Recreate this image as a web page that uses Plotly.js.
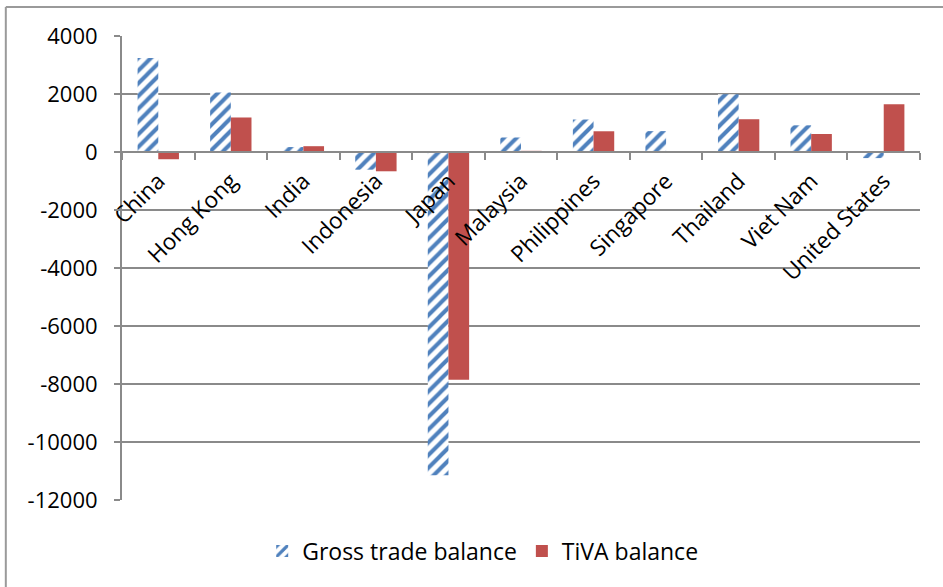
<!DOCTYPE html>
<html>
<head>
<meta charset="utf-8">
<script src="https://cdn.plot.ly/plotly-3.0.1.min.js"></script>
<style>
html,body{margin:0;padding:0;background:#fff;}
#chart{width:943px;height:587px;}
</style>
</head>
<body>
<div id="chart"></div>
<script>
const categories = ["China","Hong Kong","India","Indonesia","Japan","Malaysia","Philippines","Singapore","Thailand","Viet Nam","United States"];
const grossTrade = [3240, 2050, 170, -610, -11150, 500, 1120, 720, 1990, 920, -210];
const tivaBalance = [-250, 1190, 200, -665, -7850, 40, 715, 0, 1130, 620, 1645];
const yTicks = [4000, 2000, 0, -2000, -4000, -6000, -8000, -10000, -12000];

const FONT = "Open Sans, sans-serif";
const GRID = "#8a8a8a";

const traces = [
  {
    type: "bar", name: "Gross trade balance", x: categories, y: grossTrade,
    marker: {color: "#ffffff", line: {width: 0},
      pattern: {shape: "/", fgcolor: "#4F81BD", bgcolor: "#ffffff", size: 9, solidity: 0.45}},
    hoverinfo: "x+y"
  },
  {
    type: "bar", name: "TiVA balance", x: categories, y: tivaBalance,
    marker: {color: "#C0504D", line: {width: 0}},
    hoverinfo: "x+y"
  }
];

const layout = {
  width: 943, height: 587,
  margin: {l: 122, r: 23, t: 36, b: 87},
  paper_bgcolor: "#ffffff", plot_bgcolor: "#ffffff",
  font: {family: FONT, size: 21, color: "#000"},
  barmode: "group", bargap: 0.43, bargroupgap: 0,
  showlegend: true,
  legend: {orientation: "h", x: 0.452, xanchor: "center", y: -0.11, yanchor: "middle",
    font: {family: FONT, size: 23, color: "#000"}, itemwidth: 30, tracegroupgap: 0},
  xaxis: {
    type: "category", range: [-0.5, 10.5], anchor: "free", position: 0.75,
    showline: true, linecolor: GRID, linewidth: 2,
    ticks: "outside", tickson: "boundaries", ticklen: 7, tickwidth: 2, tickcolor: GRID,
    tickangle: -45, showgrid: false, zeroline: false, ticklabelstandoff: 6,
    tickfont: {family: FONT, size: 22.5, color: "#000"}
  },
  yaxis: {
    range: [-12000, 4000], tickvals: yTicks, ticktext: yTicks.map(String),
    showline: true, linecolor: GRID, linewidth: 2,
    ticks: "outside", ticklen: 6, tickwidth: 2, tickcolor: GRID,
    showgrid: true, gridcolor: GRID, gridwidth: 1.5, zeroline: false,
    ticklabelstandoff: 12,
    tickfont: {family: FONT, size: 22, color: "#000"}
  },
  shapes: [
    {type: "line", xref: "paper", yref: "paper", x0: -0.1456, x1: -0.1456, y0: 1.0625, y1: -0.2, line: {color: "#9a9a9a", width: 2}},
    {type: "line", xref: "paper", yref: "paper", x0: -0.1456, x1: 1.04, y0: 1.0625, y1: 1.0625, line: {color: "#9a9a9a", width: 2}}
  ]
};

Plotly.newPlot("chart", traces, layout, {displayModeBar: false, staticPlot: true});
</script>
</body>
</html>
